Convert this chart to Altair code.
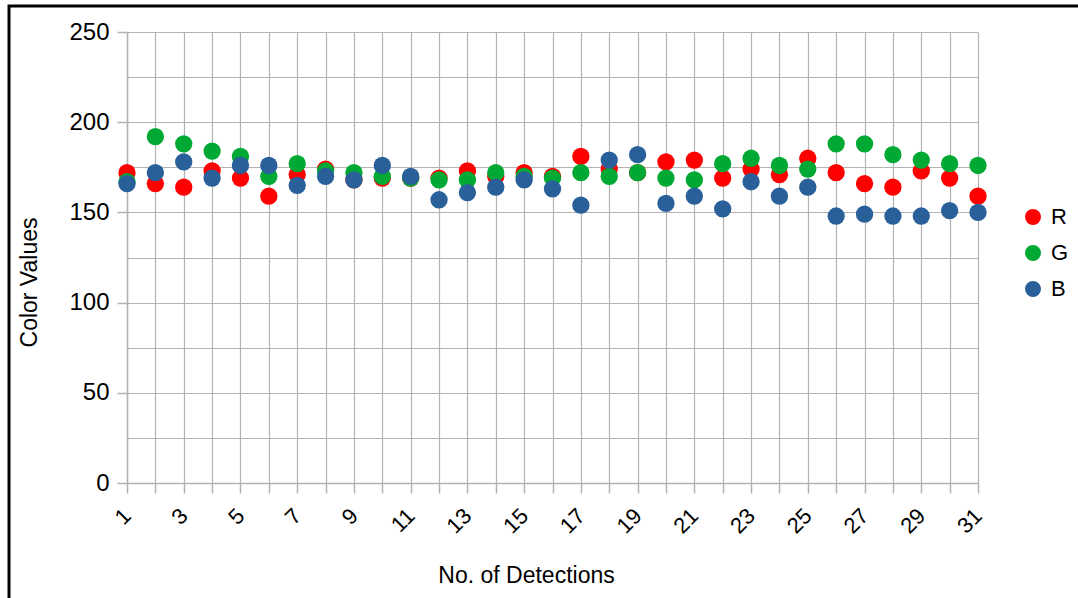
import altair as alt
import pandas as pd

# Mean colour channel values for each detection
detections = list(range(1, 32))
red_vals = [172, 166, 164, 173, 169, 159, 171, 174, 168, 169, 169, 169, 173, 170, 172, 170,
            181, 174, 172, 178, 179, 169, 174, 171, 180, 172, 166, 164, 173, 169, 159]
green_vals = [167, 192, 188, 184, 181, 170, 177, 173, 172, 170, 169, 168, 168, 172, 170, 169,
              172, 170, 172, 169, 168, 177, 180, 176, 174, 188, 188, 182, 179, 177, 176]
blue_vals = [166, 172, 178, 169, 176, 176, 165, 170, 168, 176, 170, 157, 161, 164, 168, 163,
             154, 179, 182, 155, 159, 152, 167, 159, 164, 148, 149, 148, 148, 151, 150]

channels = ["R", "G", "B"]
channel_colors = ["#ff0000", "#00a933", "#2a6099"]

rows = []
for name, vals in zip(channels, [red_vals, green_vals, blue_vals]):
    for d, v in zip(detections, vals):
        rows.append({"detection": d, "value": v, "channel": name})
df = pd.DataFrame(rows)

FONT = "Liberation Sans"
GRID = "#b3b3b3"
W, H = 851, 451

points = alt.Chart(df).mark_circle(size=300, opacity=1).encode(
    x=alt.X(
        "detection:Q",
        scale=alt.Scale(domain=[1, 31], nice=False, zero=False),
        axis=alt.Axis(
            values=detections,
            labelExpr="datum.value % 2 === 1 ? datum.label : ''",
            labelAngle=-45,
            labelAlign="right",
            labelBaseline="middle",
            labelOverlap=False,
            labelFontSize=22,
            labelPadding=19,
            tickSize=10,
            title="No. of Detections",
            titleFontSize=23,
            titleFontWeight="normal",
            titleX=399,
            titleY=81,
        ),
    ),
    y=alt.Y(
        "value:Q",
        scale=alt.Scale(domain=[0, 250], nice=False),
        axis=alt.Axis(
            values=list(range(0, 251, 25)),
            labelExpr="datum.value % 50 === 0 ? datum.label : ''",
            tickOpacity={"condition": {"test": "datum.value % 50 === 0", "value": 1}, "value": 0},
            labelFontSize=24,
            labelPadding=8,
            tickSize=10,
            title="Color Values",
            titleFontSize=23,
            titleFontWeight="normal",
            titleX=-86,
            titleY=250,
        ),
    ),
    color=alt.Color(
        "channel:N",
        scale=alt.Scale(domain=channels, range=channel_colors),
        sort=channels,
        legend=alt.Legend(
            title=None,
            orient="none",
            legendX=895,
            legendY=174,
            symbolSize=254,
            symbolType="circle",
            symbolStrokeWidth=0,
            labelFontSize=22,
            labelOffset=7,
            rowPadding=14,
        ),
    ),
)

frame = alt.Chart(pd.DataFrame({"k": [0]})).mark_rect(
    fill="transparent", stroke="black", strokeWidth=3
).encode(
    x=alt.value(-118), x2=alt.value(961), y=alt.value(-26), y2=alt.value(576)
)

chart = alt.layer(frame, points).properties(
    width=W,
    height=H,
    padding={"left": 127, "top": 32, "right": 100, "bottom": 115},
    autosize=alt.AutoSizeParams(type="none"),
    background="white",
).configure_view(
    stroke="transparent"
).configure_axis(
    labelFont=FONT,
    titleFont=FONT,
    labelColor="#000000",
    titleColor="#000000",
    domainColor=GRID,
    domainWidth=1.5,
    tickColor=GRID,
    tickWidth=1.5,
    gridColor=GRID,
    gridWidth=1.2,
).configure_legend(
    labelFont=FONT,
    labelColor="#000000",
)

chart.save("out.html", embed_options={"renderer": "svg", "actions": False})
